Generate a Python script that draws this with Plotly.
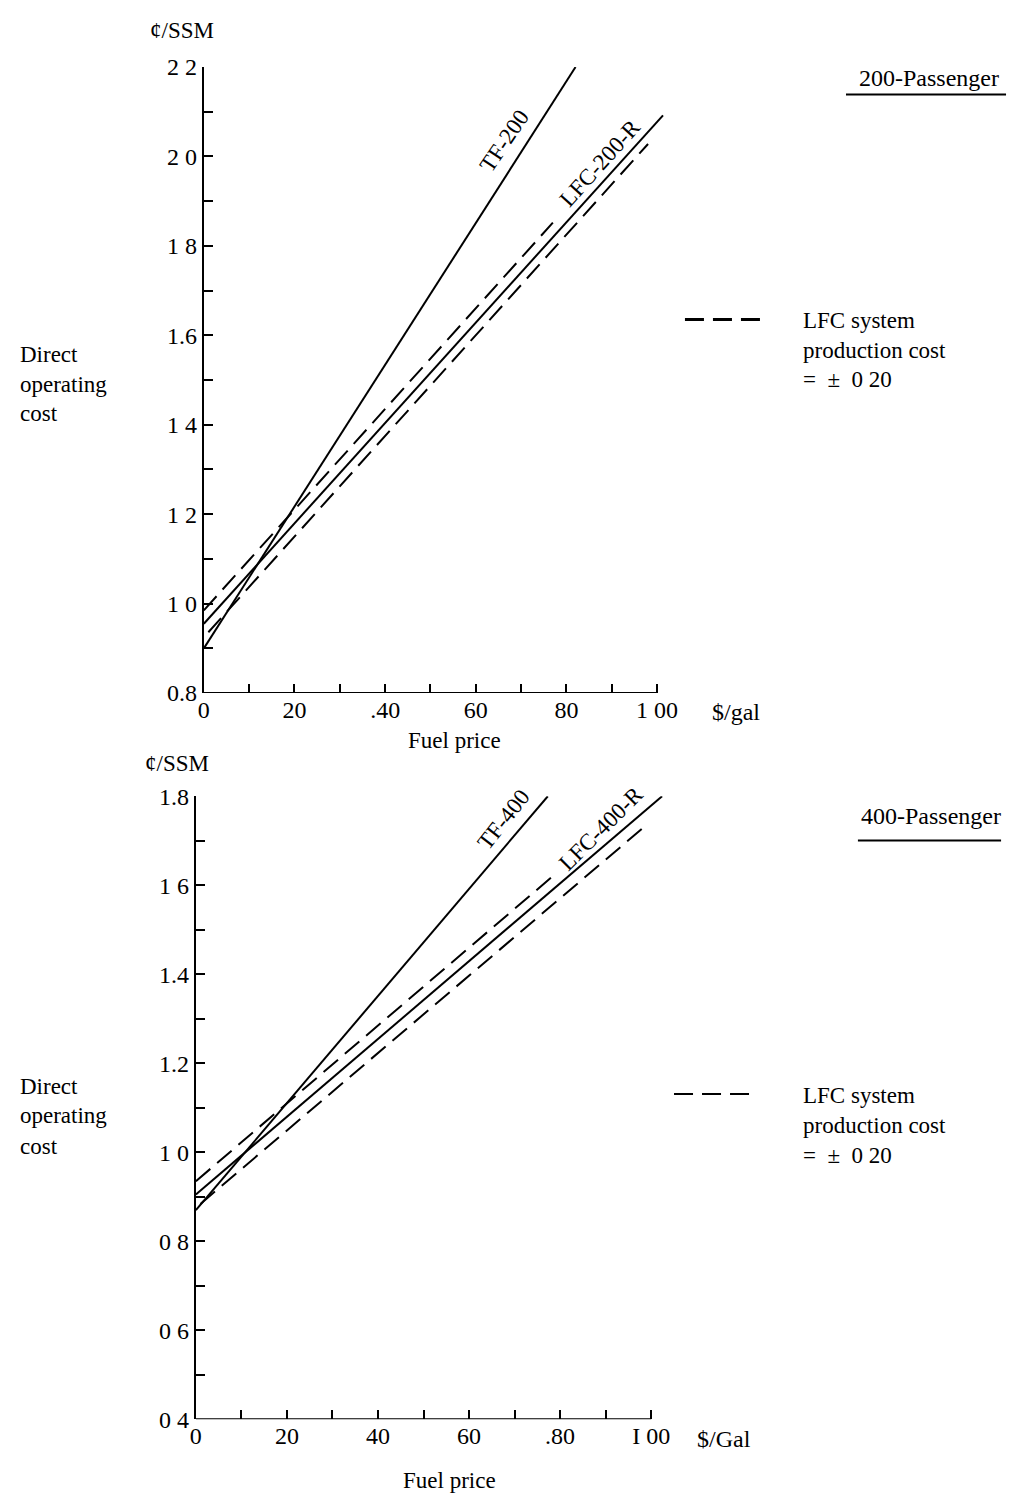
import plotly.graph_objects as go

# ---------------- data ----------------
# Upper panel: 200-passenger
fuel_tf200 = [0.0, 0.82]
doc_tf200 = [0.90, 2.20]
fuel_lfc200 = [0.0, 1.013]
doc_lfc200 = [0.955, 2.092]
fuel_lfc200_hi = [0.0, 0.77]
doc_lfc200_hi = [0.985, 1.852]
fuel_lfc200_lo = [0.01, 0.98]
doc_lfc200_lo = [0.936, 2.028]

# Lower panel: 400-passenger
fuel_tf400 = [0.0, 0.773]
doc_tf400 = [0.87, 1.80]
fuel_lfc400 = [0.0, 1.024]
doc_lfc400 = [0.905, 1.80]
fuel_lfc400_hi = [0.0, 0.78]
doc_lfc400_hi = [0.935, 1.617]
fuel_lfc400_lo = [0.01, 0.98]
doc_lfc400_lo = [0.884, 1.727]

x_ticks = [0.0, 0.1, 0.2, 0.3, 0.4, 0.5, 0.6, 0.7, 0.8, 0.9, 1.0]
x_text_top = ["0", "", "20", "", ".40", "", "60", "", "80", "", "1 00"]
x_text_bot = ["0", "", "20", "", "40", "", "60", "", ".80", "", "I 00"]
y_ticks_top = [0.8, 0.9, 1.0, 1.1, 1.2, 1.3, 1.4, 1.5, 1.6, 1.7, 1.8, 1.9, 2.0, 2.1, 2.2]
y_text_top = ["0.8", "", "1 0", "", "1 2", "", "1 4", "", "1.6", "", "1 8", "", "2 0", "", "2 2"]
y_ticks_bot = [0.4, 0.5, 0.6, 0.7, 0.8, 0.9, 1.0, 1.1, 1.2, 1.3, 1.4, 1.5, 1.6, 1.7, 1.8]
y_text_bot = ["0 4", "", "0 6", "", "0 8", "", "1 0", "", "1.2", "", "1.4", "", "1 6", "", "1.8"]

FONT = "Liberation Serif"
W, H = 1013, 1507
DASH = "19px,9px"
TXT = 23


def px(x):
    return x / W


def py(y):
    return 1 - y / H


fig = go.Figure()

def add_line(x, y, xa, ya, dash="solid"):
    fig.add_trace(go.Scatter(x=x, y=y, mode="lines", xaxis=xa, yaxis=ya,
                             line=dict(color="black", width=2, dash=dash),
                             showlegend=False, hoverinfo="skip"))

add_line(fuel_tf200, doc_tf200, "x", "y")
add_line(fuel_lfc200, doc_lfc200, "x", "y")
add_line(fuel_lfc200_hi, doc_lfc200_hi, "x", "y", DASH)
add_line(fuel_lfc200_lo, doc_lfc200_lo, "x", "y", DASH)

add_line(fuel_tf400, doc_tf400, "x2", "y2")
add_line(fuel_lfc400, doc_lfc400, "x2", "y2")
add_line(fuel_lfc400_hi, doc_lfc400_hi, "x2", "y2", DASH)
add_line(fuel_lfc400_lo, doc_lfc400_lo, "x2", "y2", DASH)

XMAX = 1.05
# pixel calibration of the axes
top_x0, top_x1 = 199, 655
top_y0, top_y1 = 692, 55
bot_x0, bot_x1 = 191, 649
bot_y0, bot_y1 = 1431, 797

tick_font = dict(family=FONT, size=24, color="black")

def xaxis_cfg(x0, x1, ticktext, anchor):
    right = x0 + XMAX * (x1 - x0)
    return dict(domain=[px(x0), px(right)], range=[0, XMAX], showline=False,
                showgrid=False, zeroline=False, ticks="inside", ticklen=9,
                tickwidth=2, tickcolor="black", tickvals=x_ticks, ticktext=ticktext,
                tickfont=tick_font, anchor=anchor, fixedrange=True)

def yaxis_cfg(y0, y1, rng, tickvals, ticktext, anchor):
    return dict(domain=[py(y0), py(y1)], range=rng, showline=True, linecolor="black",
                linewidth=2, showgrid=False, zeroline=False, ticks="inside", ticklen=9,
                tickwidth=2, tickcolor="black", tickvals=tickvals, ticktext=ticktext,
                tickfont=tick_font, anchor=anchor, fixedrange=True)

fig.update_layout(
    width=W, height=H, autosize=False,
    margin=dict(l=0, r=0, t=0, b=0),
    paper_bgcolor="white", plot_bgcolor="white",
    font=dict(family=FONT, size=TXT, color="black"),
    xaxis=xaxis_cfg(top_x0, top_x1, x_text_top, "y"),
    yaxis=yaxis_cfg(top_y0, top_y1, [0.8, 2.2], y_ticks_top, y_text_top, "x"),
    xaxis2=xaxis_cfg(bot_x0, bot_x1, x_text_bot, "y2"),
    yaxis2=yaxis_cfg(bot_y0, bot_y1, [0.4, 1.8], y_ticks_bot, y_text_bot, "x2"),
)

shapes = []
# x axis lines (end at 1.00)
shapes.append(dict(type="line", xref="x", yref="y", x0=0, x1=1.0, y0=0.8, y1=0.8,
                   line=dict(color="black", width=2)))
shapes.append(dict(type="line", xref="x2", yref="y2", x0=0, x1=1.0, y0=0.4, y1=0.4,
                   line=dict(color="black", width=2)))
# legend dash samples
shapes.append(dict(type="line", xref="paper", yref="paper", x0=px(683), x1=px(766),
                   y0=py(312), y1=py(312), line=dict(color="black", width=3, dash=DASH)))
shapes.append(dict(type="line", xref="paper", yref="paper", x0=px(672), x1=px(752),
                   y0=py(1100), y1=py(1100), line=dict(color="black", width=2, dash=DASH)))
# underlines of panel titles
shapes.append(dict(type="line", xref="paper", yref="paper", x0=px(845), x1=px(1006),
                   y0=py(83), y1=py(83), line=dict(color="black", width=2)))
shapes.append(dict(type="line", xref="paper", yref="paper", x0=px(857), x1=px(1001),
                   y0=py(842), y1=py(842), line=dict(color="black", width=2)))
fig.update_layout(shapes=shapes)

ann = []

def text(x, y, s, size=TXT, xanchor="left", yanchor="middle", align="left"):
    ann.append(dict(x=px(x), y=py(y), xref="paper", yref="paper", text=s, showarrow=False,
                    xanchor=xanchor, yanchor=yanchor, align=align,
                    font=dict(family=FONT, size=size, color="black")))

def rot(x, y, s, angle, xa, ya):
    ann.append(dict(x=x, y=y, xref=xa, yref=ya, text=s, showarrow=False, textangle=angle,
                    xanchor="center", yanchor="middle",
                    font=dict(family=FONT, size=23, color="black")))

# upper panel texts
text(143, 18, "¢/SSM")
text(856, 66, "200-Passenger", size=24)
text(12, 347, "Direct")
text(12, 378, "operating")
text(12, 408, "cost")
text(800, 313, "LFC system")
text(800, 343, "production cost")
text(800, 373, "=  ±  0 20")
text(708, 711, "$/gal", size=24)
text(451, 740, "Fuel price", xanchor="center")
rot(0.664, 2.035, "TF-200", -56, "x", "y")
rot(0.873, 1.985, "LFC-200-R", -48, "x", "y")

# lower panel texts
text(138, 764, "¢/SSM")
text(858, 817, "400-Passenger", size=24)
text(12, 1092, "Direct")
text(12, 1122, "operating")
text(12, 1153, "cost")
text(800, 1101, "LFC system")
text(800, 1132, "production cost")
text(800, 1163, "=  ±  0 20")
text(693, 1451, "$/Gal", size=24)
text(446, 1493, "Fuel price", xanchor="center")
rot(0.676, 1.748, "TF-400", -52, "x2", "y2")
rot(0.89, 1.728, "LFC-400-R", -45, "x2", "y2")

fig.update_layout(annotations=ann)

fig.write_html("out.html")
